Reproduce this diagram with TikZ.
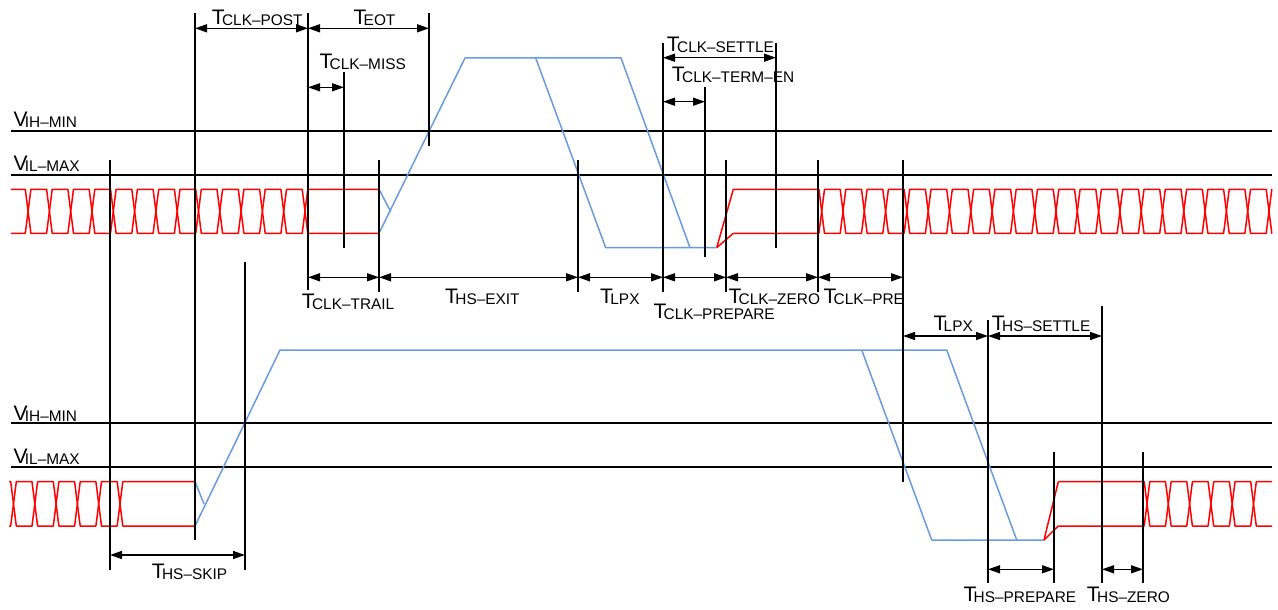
\documentclass[tikz,border=0pt]{standalone}
\usepackage{fontspec}
\setmainfont{Liberation Sans}
\usetikzlibrary{arrows.meta}
\definecolor{sigred}{RGB}{255,0,0}
\definecolor{sigblue}{RGB}{105,155,222}
\newcommand\tlab[2]{#1\kern-2.6pt\raisebox{-1pt}{\fontsize{15.4}{16}\selectfont #2}}
\newcommand\eP{21.3}
\newcommand\eW{2.8}
% #1 xs, #2 xe, #3 first crossing centre, #4 last index, #5 start y, #6 other y, #7 end y
\newcommand\eyeline[7]{%
  \draw[sig] (#1,#5) \foreach \k [evaluate=\k as \c using {#3+\k*\eP},
      evaluate=\k as \ya using {mod(\k,2)==0 ? #5 : #6},
      evaluate=\k as \yb using {mod(\k,2)==0 ? #6 : #5}] in {0,...,#4}
      { -- ({\c-\eW},\ya) -- ({\c+\eW},\yb) } -- (#2,#7);}
\begin{document}
\begin{tikzpicture}[x=1pt,y=-1pt,
  level/.style={line width=1.7pt,black},
  tmark/.style={line width=1.4pt,black},
  dim/.style={line width=1.4pt,black,{Triangle[length=12pt,width=8pt]}-{Triangle[length=12pt,width=8pt]}},
  sig/.style={line width=1.5pt,sigred,line join=round},
  blu/.style={line width=1.5pt,sigblue,line join=round},
  lab/.style={inner sep=0pt,anchor=base west,font=\fontsize{21}{22}\selectfont}]
\useasboundingbox (0,0) rectangle (1278,610);

% level lines
\foreach \y in {130.7,174.7,423.3,466.7} \draw[level] (11,\y) -- (1272,\y);

% ---------- top lane ----------
\eyeline{11}{379}{28.1}{13}{189.3}{233.3}{189.3}
\eyeline{11}{379}{28.1}{13}{233.3}{189.3}{233.3}
\draw[sig] (716.7,247.7) -- (733.3,189.3);
\draw[sig] (716.7,247.7) -- (733.3,233.3);
\eyeline{733.3}{1272}{821.7}{21}{189.3}{233.3}{189.3}
\eyeline{733.3}{1272}{821.7}{21}{233.3}{189.3}{233.3}
\draw[blu] (379,233.3) -- (465,58) -- (621,58) -- (690,247.7);
\draw[blu] (379,189.3) -- (390.7,211.7);
\draw[blu] (535.7,58) -- (605.7,247.7) -- (716.7,247.7);

% ---------- bottom lane ----------
\eyeline{9}{195}{13.5}{5}{481.7}{526}{481.7}
\eyeline{9}{195}{13.5}{5}{526}{481.7}{526}
\draw[sig] (1044,540) -- (1058.3,481.7);
\draw[sig] (1044,540) -- (1058.3,526);
\eyeline{1058.3}{1272}{1147}{5}{481.7}{526}{481.7}
\eyeline{1058.3}{1272}{1147}{5}{526}{481.7}{526}
\draw[blu] (195,526) -- (280,350) -- (946.7,350) -- (1016.7,540);
\draw[blu] (195,481.7) -- (204,504);
\draw[blu] (861.7,350) -- (931.7,540) -- (1044,540);

% timing markers
\foreach \x/\ya/\yb in {110/160/570, 195/13/540, 245/262/570, 308/13/290,
  344/71.7/248.3, 379/160/291.7, 429/13/146, 578/160/291.7, 663/43/291.7,
  705/87.3/256.7, 726/160/291.7, 776/43/248.3, 818/160/291.7, 903/160/481.7,
  988/320/583, 1054/451.7/583, 1102/306/583, 1143/451.7/583}
  \draw[tmark] (\x,\ya) -- (\x,\yb);

% dimension arrows
\draw[dim] (195,28.3) -- (308,28.3);
\draw[dim] (308,28.3) -- (429,28.3);
\draw[dim] (308,87.3) -- (344,87.3);
\draw[dim] (663,57.7) -- (776,57.7);
\draw[dim] (663,101.7) -- (705,101.7);
\foreach \a/\b in {308/379,379/578,578/663,663/726,726/818,818/903}
  \draw[dim] (\a,277.3) -- (\b,277.3);
\draw[dim] (903,336) -- (988,336);
\draw[dim] (988,336) -- (1102,336);
\draw[dim] (110,555) -- (245,555);
\draw[dim] (988,569.3) -- (1054,569.3);
\draw[dim] (1102,569.3) -- (1143,569.3);

% labels
\node[lab] (vih1) at (13.3,126.7) {\tlab{V}{IH–MIN}};
\node[lab] (vil1) at (13.3,170) {\tlab{V}{IL–MAX}};
\node[lab] (vih2) at (13.3,420) {\tlab{V}{IH–MIN}};
\node[lab] (vil2) at (13.3,463.3) {\tlab{V}{IL–MAX}};
\node[lab] (tpost) at (211.7,25) {\tlab{T}{CLK–POST}};
\node[lab] (teot) at (353.3,25) {\tlab{T}{EOT}};
\node[lab] (tmiss) at (319.3,68.3) {\tlab{T}{CLK–MISS}};
\node[lab] (tsettle) at (666.7,51.7) {\tlab{T}{CLK–SETTLE}};
\node[lab] (ttermen) at (671.7,81.7) {\tlab{T}{CLK–TERM–EN}};
\node[lab] (ttrail) at (301.7,308.3) {\tlab{T}{CLK–TRAIL}};
\node[lab] (texit) at (445,303.3) {\tlab{T}{HS–EXIT}};
\node[lab] (tlpx1) at (600,303.3) {\tlab{T}{LPX}};
\node[lab] (tprep) at (653.3,318) {\tlab{T}{CLK–PREPARE}};
\node[lab] (tzero) at (728.3,303.3) {\tlab{T}{CLK–ZERO}};
\node[lab] (tpre) at (823.3,303.3) {\tlab{T}{CLK–PRE}};
\node[lab] (tlpx2) at (933.3,330) {\tlab{T}{LPX}};
\node[lab] (thsset) at (991.7,330) {\tlab{T}{HS–SETTLE}};
\node[lab] (tskip) at (151.7,578.3) {\tlab{T}{HS–SKIP}};
\node[lab] (thsprep) at (963.3,601.7) {\tlab{T}{HS–PREPARE}};
\node[lab] (thszero) at (1086.7,601.7) {\tlab{T}{HS–ZERO}};
\end{tikzpicture}
\end{document}
